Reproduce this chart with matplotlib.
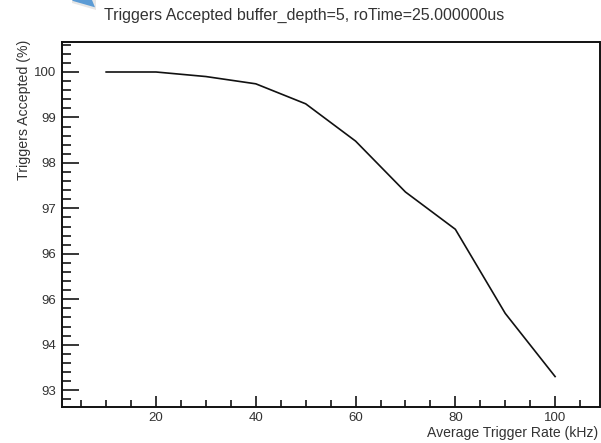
import matplotlib
matplotlib.use("Agg")
import matplotlib.pyplot as plt
from matplotlib.patches import Polygon

rate = [10, 20, 30, 40, 50, 60, 70, 80, 90, 100]
accepted = [100.0, 100.0, 99.9, 99.74, 99.3, 98.48, 97.36, 96.54, 94.69, 93.3]
y_ticks = [93, 94, 95, 96, 97, 98, 99, 100]
y_labels = ["93", "94", "96", "96", "97", "98", "99", "100"]
x_ticks = [20, 40, 60, 80, 100]

plt.rcParams['font.family'] = ['Liberation Sans', 'DejaVu Sans']
W, H = 601, 443
text_col = '#333333'

fig = plt.figure(figsize=(W/100, H/100), dpi=100)
ax = fig.add_axes([61.5/W, 1-407/H, 538/W, 365/H])
ax.plot(rate, accepted, c='#111111', lw=1.2)
ax.set_xlim(1.05, 108.9)
ax.set_ylim(92.63, 100.66)

ax.set_xticks(x_ticks)
ax.set_xticks(list(range(5, 110, 5)), minor=True)
ax.set_yticks(y_ticks)
ax.set_yticklabels(y_labels)
ax.set_yticks([93 + 0.2*i for i in range(-1, 39)], minor=True)
ax.tick_params(axis='x', which='major', direction='in', length=8, width=1.1, labelsize=9.5, pad=3.5, labelcolor=text_col)
ax.tick_params(axis='x', which='minor', direction='in', length=5, width=1.1)
ax.tick_params(axis='y', which='major', direction='in', length=12, width=1.1, labelsize=9.5, pad=4, labelcolor=text_col)
ax.tick_params(axis='y', which='minor', direction='in', length=6.5, width=1.1)
for s in ax.spines.values():
	s.set_linewidth(1.4)
	s.set_color('#111111')

fig.text(104/W, 1-19.5/H, "Triggers Accepted buffer_depth=5, roTime=25.000000us", fontsize=11.5, color=text_col, va='baseline')
fig.text(598/W, 1-437.5/H, "Average Trigger Rate (kHz)", fontsize=10.1, color=text_col, ha='right', va='baseline')
fig.text(24/W, 1-110/H, "Triggers Accepted (%)", fontsize=10.2, color=text_col, rotation=90, ha='center', va='center')

# blue corner shape cut off by the top of the image, with its soft shadow
fig.add_artist(Polygon([(72/W, 1.0), (72/W, 1-3/H), (96/W, 1-10/H), (96/W, 1.0)], closed=True, transform=fig.transFigure, fc='#e6e6e6', ec='none'))
fig.add_artist(Polygon([(72/W, 1.0), (73/W, 1-1/H), (95/W, 1-7.3/H), (92/W, 1.0)], closed=True, transform=fig.transFigure, fc='#5b9bd5', ec='none'))

fig.savefig("out.png", dpi=100)
